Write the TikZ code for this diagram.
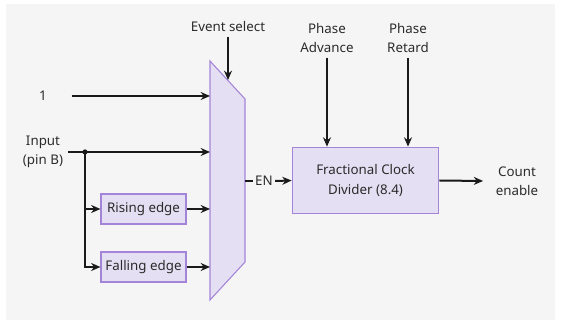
\documentclass[tikz,border=0pt]{standalone}
\usepackage{fontspec}
\setmainfont{Noto Sans}
\usetikzlibrary{arrows.meta,positioning,calc}
\definecolor{bgpanel}{HTML}{F5F5F5}
\definecolor{blockfill}{HTML}{E4DFF2}
\definecolor{blockline}{HTML}{A484D8}
\definecolor{wire}{HTML}{1A1A1A}
\definecolor{label}{HTML}{2B2B2B}
\begin{document}
\begin{tikzpicture}[x=0.75pt,y=-0.75pt,
  every node/.style={font=\fontsize{10}{14.5}\selectfont, text=label},
  wireline/.style={line width=1.5pt, draw=wire},
  sig/.style={wireline, -{Stealth[length=7pt,width=6pt]}},
  block/.style={draw=blockline, fill=blockfill, line width=0.8pt}]
\useasboundingbox (0,0) rectangle (561,327);
\fill[bgpanel] (6,4) rectangle (555,320);
% selector
\draw[block] (210,61) -- (245,99) -- (245,262) -- (210,300) -- cycle;
\coordinate (sel1) at (210,96);
\coordinate (sel2) at (210,152);
\coordinate (sel3) at (210,209);
\coordinate (sel4) at (210,267);
\coordinate (selctl) at (228,80);
\coordinate (selout) at (245,181);
% labels and blocks
\node (one) at (43,96) {1};
\node[align=center] (input) at (43,152) {Input\\(pin B)};
\node (evsel) at (228,27) {Event select};
\node[block, minimum width=63.75pt, minimum height=22.5pt, inner sep=1pt] (rise) at (143.5,209) {Rising edge};
\node[block, minimum width=63.75pt, minimum height=22.5pt, inner sep=1pt] (fall) at (143.5,267) {Falling edge};
\node[inner sep=1.5pt] (en) at (264,181) {EN};
\node[block, minimum width=110pt, minimum height=50pt, align=center] (frac) at (365.5,180.5) {Fractional Clock\\Divider (8.4)};
\node[align=center] (adv) at (327,38) {Phase\\Advance};
\node[align=center] (ret) at (408,38) {Phase\\Retard};
\node[align=center] (count) at (517,181) {Count\\enable};
% connections
\draw[sig] ([xshift=15pt]one.east) -- (sel1);
\draw[sig] (input.east |- sel2) -- (sel2);
\fill[wire] (85,152) coordinate (tap) circle (2.6);
\draw[sig] (tap) |- (rise.west);
\draw[sig] (tap) |- (fall.west);
\draw[sig] (rise.east) -- (sel3);
\draw[sig] (fall.east) -- (sel4);
\draw[sig] (evsel.south) -- (selctl);
\draw[wireline] (selout) -- (en.west);
\draw[sig] (en.east) -- (frac.west);
\draw[sig] (adv.south) -- (adv.south |- frac.north);
\draw[sig] (ret.south) -- (ret.south |- frac.north);
\draw[sig] (frac.east) -- ([xshift=-6pt]count.west);
\end{tikzpicture}
\end{document}
